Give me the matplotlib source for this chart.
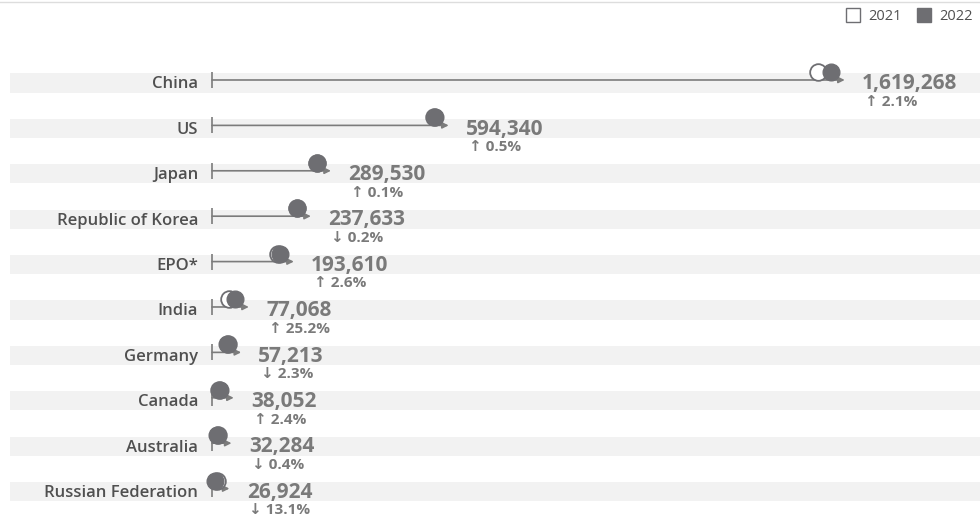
import matplotlib
matplotlib.use("Agg")
import matplotlib.pyplot as plt
from matplotlib.transforms import offset_copy
from matplotlib.lines import Line2D

offices = ["China", "US", "Japan", "Republic of Korea", "EPO*", "India",
           "Germany", "Canada", "Australia", "Russian Federation"]
filings_2022 = [1619268, 594340, 289530, 237633, 193610, 77068,
                57213, 38052, 32284, 26924]
filings_2021 = [1585663, 591473, 289200, 238107, 188778, 61573,
                58568, 37160, 32414, 30977]
growth = ["↑ 2.1%", "↑ 0.5%", "↑ 0.1%", "↓ 0.2%", "↑ 2.6%", "↑ 25.2%",
          "↓ 2.3%", "↑ 2.4%", "↓ 0.4%", "↓ 13.1%"]

DARK = "#6e6e72"
LINE = "#7c7c7c"
TEXT = "#505050"
VALUE = "#7a7a7a"
BAND = "#f2f2f2"
FONT = ["Open Sans", "DejaVu Sans"]

plt.rcParams["font.family"] = FONT

fig = plt.figure(figsize=(9.8, 5.2), dpi=100)
ax = fig.add_axes([0, 0, 1, 1])
ax.set_xlim(-548654, 1987578)
ax.set_ylim(9.626, -1.828)
ax.axis("off")

# pixel offsets for the dumbbell parts
circle_tf = offset_copy(ax.transData, fig, x=-7, y=11, units="dots")
line_tf = offset_copy(ax.transData, fig, x=0, y=3, units="dots")
tip_tf = offset_copy(ax.transData, fig, x=7, y=3, units="dots")

for i, name in enumerate(offices):
    v22 = filings_2022[i]
    v21 = filings_2021[i]

    ax.axhspan(i - 0.21, i + 0.21, xmin=10 / 980, xmax=1, color=BAND, lw=0, zorder=0)

    ax.annotate(name, xy=(0, i), xytext=(-10, -1), textcoords="offset points",
                ha="right", va="center", fontsize=12, fontweight="semibold",
                color=TEXT)

    ax.plot([0], [i], marker="|", markersize=11, mew=1.2, color=LINE,
            transform=line_tf, zorder=2)
    ax.annotate("", xy=(v22, i), xycoords=tip_tf,
                xytext=(0, i), textcoords=line_tf,
                arrowprops=dict(arrowstyle="-|>", color=LINE, lw=1.2,
                                mutation_scale=9, shrinkA=0, shrinkB=0),
                zorder=2)

    ax.plot([v21], [i], marker="o", markersize=12, mfc="white", mec=DARK,
            mew=1.3, transform=circle_tf, zorder=3, linestyle="none")
    ax.plot([v22], [i], marker="o", markersize=12, mfc=DARK, mec=DARK,
            mew=1.0, transform=circle_tf, zorder=4, linestyle="none")

    ax.annotate(f"{v22:,}", xy=(v22, i), xytext=(17.5, -0.5), textcoords="offset points",
                ha="left", va="center", fontsize=15, fontweight="bold",
                color=VALUE)
    ax.annotate(growth[i], xy=(v22, i), xytext=(19.5, -13.5), textcoords="offset points",
                ha="left", va="center", fontsize=11, fontweight="bold",
                color=VALUE)

handles = [
    Line2D([], [], marker="s", linestyle="none", markersize=10, mfc="white",
           mec=DARK, mew=1.0, label="2021"),
    Line2D([], [], marker="s", linestyle="none", markersize=10, mfc=DARK,
           mec=DARK, label="2022"),
]
fig.legend(handles=handles, loc="center left", bbox_to_anchor=(846 / 980, 1 - 17 / 520),
           ncol=2, frameon=False, fontsize=10.5, handlelength=1.0, handletextpad=0.55,
           columnspacing=1.0, labelcolor=TEXT, borderaxespad=0, borderpad=0)

fig.add_artist(Line2D([0, 1], [0.997, 0.997], color="#dddddd", lw=1))

fig.savefig("out.png", dpi=100)
